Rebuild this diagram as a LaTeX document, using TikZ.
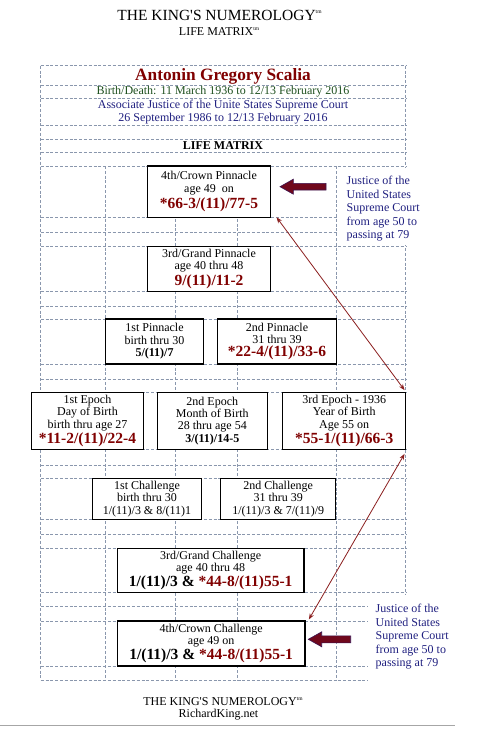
\documentclass[tikz,border=0pt]{standalone}
\usepackage{fontspec}
\setmainfont{Liberation Serif}[Ligatures=TeXOff]
\usetikzlibrary{calc,arrows.meta}
\definecolor{dred}{RGB}{128,0,0}
\definecolor{dgreen}{RGB}{30,80,30}
\definecolor{navyc}{RGB}{32,32,128}
\definecolor{gridc}{RGB}{138,151,173}
\definecolor{arrowred}{RGB}{139,30,30}
\definecolor{blockred}{RGB}{112,8,28}
\definecolor{blockedge}{RGB}{60,20,80}
\newcommand{\tmark}{\raisebox{0.42em}{\fontsize{5.5}{6}\selectfont tm}}
\newcommand{\bignum}[1]{{\fontsize{15.5}{16}\selectfont\bfseries\color{dred}#1}}
\newcommand{\bigblk}[1]{{\fontsize{15.5}{16}\selectfont\bfseries #1}}
\begin{document}
\begin{tikzpicture}[x=1pt,y=-1pt,
  grid/.style={gridc, line width=0.8pt, dash pattern=on 3pt off 1.8pt},
  box/.style={draw=black, line width=1.1pt, fill=white, align=center, inner sep=0pt,
    font=\fontsize{12}{12.4}\selectfont},
  hdr/.style={anchor=base, inner sep=0pt},
  side/.style={anchor=north west, align=left, inner sep=0pt, text=navyc,
    font=\fontsize{12}{13.5}\selectfont},
  linkarrow/.style={arrowred, line width=0.8pt, {Stealth[length=6pt,width=4.5pt]}-{Stealth[length=6pt,width=4.5pt]}},
  blockarrow/.style={fill=blockred, draw=blockedge, line width=0.6pt}
]
\useasboundingbox (0,0) rectangle (478,734);
\fill[white] (0,0) rectangle (478,734);

% grid
\foreach \y in {65.7,85.7,98.3,125.7,139.3,152.7,166,217.3,232,246.3,291.3,306,319,364,379,392.3,449.3,465,478.3,519.3,534,548.3,592.7,606.7,621,666,680}
  \draw[grid] (40.7,\y) -- (405.7,\y);
\draw[grid] (40.7,65.7) -- (40.7,680);
\draw[grid] (405.7,65.7) -- (405.7,680);
\foreach \x in {105.7,175.7,237.7,336.7}
  \draw[grid] (\x,166) -- (\x,680);

% covers behind side notes
\fill[white] (338,167.5) rectangle (425,245);
\fill[white] (367.5,594.5) rectangle (470,684);

% titles
\node[hdr, font=\fontsize{15.5}{16}\selectfont] (t1) at (219.5,20.5) {THE KING'S NUMEROLOGY\tmark};
\node[hdr, font=\fontsize{12}{12}\selectfont] (t2) at (219,35.5) {LIFE MATRIX\tmark};

% header rows
\node[hdr, font=\fontsize{17.3}{18}\selectfont\bfseries, text=dred] (name) at (223,80) {Antonin Gregory Scalia};
\node[hdr, font=\fontsize{12}{12}\selectfont, text=dgreen] (bd) at (223,94.5) {Birth/Death: 11 March 1936 to 12/13 February 2016};
\node[hdr, font=\fontsize{12}{12}\selectfont, text=navyc] (aj) at (223,108.2) {Associate Justice of the Unite States Supreme Court};
\node[hdr, font=\fontsize{12}{12}\selectfont, text=navyc] (sp) at (223,121.5) {26 September 1986 to 12/13 February 2016};
\node[hdr, font=\fontsize{12}{12}\selectfont\bfseries] (lm) at (223,149) {LIFE MATRIX};

% boxes
\node[box, minimum width=123.4, minimum height=51.3] (p4) at (209,191.65)
  {4th/Crown Pinnacle\\ age 49\ \ on\\[2pt] \bignum{*66-3/(11)/77-5}};
\node[box, minimum width=123.4, minimum height=45] (p3) at (209,268.8)
  {3rd/Grand Pinnacle\\ age 40 thru 48\\[1pt] \bignum{9/(11)/11-2}};
\node[box, minimum width=97.6, minimum height=45] (p1) at (154.5,341.5)
  {1st Pinnacle\\ birth thru 30\\ \textbf{5/(11)/7}};
\node[box, minimum width=119.4, minimum height=45] (p2) at (277,341.5)
  {2nd Pinnacle\\ 31 thru 39\\[1pt] \bignum{*22-4/(11)/33-6}};
\node[box, minimum width=111.6, minimum height=57] (e1) at (87.5,420.8)
  {1st Epoch\\ Day of Birth\\ birth thru age 27\\[1pt] \bignum{*11-2/(11)/22-4}};
\node[box, minimum width=110, minimum height=57] (e2) at (212.3,420.8)
  {2nd Epoch\\ Month of Birth\\ 28 thru age 54\\ \textbf{3/(11)/14-5}};
\node[box, minimum width=123, minimum height=57] (e3) at (344.2,420.8)
  {3rd Epoch - 1936\\ Year of Birth\\ Age 55 on\\[1pt] \bignum{*55-1/(11)/66-3}};
\node[box, minimum width=109.4, minimum height=41] (c1) at (147,498.8)
  {1st Challenge\\ birth thru 30\\ 1/(11)/3 \& 8/(11)1};
\node[box, minimum width=115, minimum height=41] (c2) at (278.2,498.8)
  {2nd Challenge\\ 31 thru 39\\ 1/(11)/3 \& 7/(11)/9};
\node[box, minimum width=186.7, minimum height=44.4] (c3) at (210.65,570.5)
  {3rd/Grand Challenge\\ age 40 thru 48\\[1pt] \bigblk{1/(11)/3 \& }\bignum{*44-8/(11)55-1}};
\node[box, minimum width=187.7, minimum height=45] (c4) at (211.15,643.5)
  {4th/Crown Challenge\\ age 49 on\\[1pt] \bigblk{1/(11)/3 \& }\bignum{*44-8/(11)55-1}};

% side notes
\node[side] (s1) at (346.5,176) {Justice of the\\ United States\\ Supreme Court\\ from age 50 to\\ passing at 79};
\node[side] (s2) at (375.5,604) {Justice of the\\ United States\\ Supreme Court\\ from age 50 to\\ passing at 79};

% block arrows
\draw[blockarrow] (280,186.7) -- (293.3,179.2) -- (293.3,183.4) -- (326,183.4) -- (326,190) -- (293.3,190) -- (293.3,194.2) -- cycle;
\draw[blockarrow] (308.3,639.3) -- (321.7,631.8) -- (321.7,635.8) -- (350.7,635.8) -- (350.7,642.8) -- (321.7,642.8) -- (321.7,646.8) -- cycle;

% thin double-headed arrows
\draw[linkarrow] ($(p4.south east)+(5.3,-0.6)$) -- ($(e3.north east)+(-1.7,-1.6)$);
\draw[linkarrow] ($(e3.south east)+(-1.7,4)$) -- ($(c4.north east)+(3.3,-1)$);

% footer
\node[hdr, font=\fontsize{12}{12}\selectfont] (f1) at (223,705.7) {THE KING'S NUMEROLOGY\tmark};
\node[hdr, font=\fontsize{12}{12}\selectfont] (f2) at (218.5,717.7) {RichardKing.net};
\draw[gray!70, line width=0.8pt] (0,725) -- (455,725);
\end{tikzpicture}
\end{document}
